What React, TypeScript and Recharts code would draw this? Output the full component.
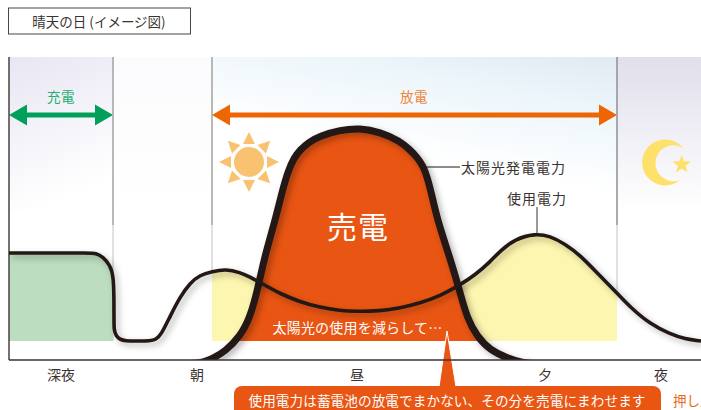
import React from 'react';
import { ComposedChart, Line, Area, XAxis, YAxis, ReferenceArea, ReferenceLine } from 'recharts';

// time runs 0..692, power runs 0..303 (arbitrary image units: the picture has no numeric scale)
const usageTime = [0, 40, 80, 87, 94, 101, 104.5, 105, 105, 105, 107, 111, 116, 128, 141, 147, 152, 161, 171, 181, 191, 203, 217, 231, 241, 251, 261, 271, 291, 311, 331, 346, 371, 391, 411, 431, 451, 466, 481, 491, 506, 526, 541, 556, 571, 591, 608, 621, 641, 661, 676, 692];
const usagePower = [107, 107, 107, 107, 103, 95, 84, 60, 40, 30, 24, 20.5, 19, 19, 19, 20.5, 25, 43.5, 63, 77, 85, 88.5, 91, 87.5, 83, 77.5, 72, 66.5, 58, 52.5, 49.5, 48.5, 49, 52, 57, 64, 75, 85, 98, 109, 121, 126.5, 124, 116, 105, 84, 67, 53, 36, 26, 21, 19];
const solarTime = [181, 191, 200, 206, 216, 231, 241, 249, 256, 266, 273, 279, 285, 291, 300, 311, 331, 351, 371, 391, 401, 408, 414, 418, 424, 429, 441, 451, 458, 468, 481, 498, 514, 524];
const solarPower = [-3.5, -3, 0, 3, 8.5, 23.5, 42, 72, 105, 139, 168, 189, 202, 210, 218, 224, 230, 232, 228, 219, 210, 203, 194, 184, 160, 138, 102, 68, 42, 23.5, 10, 2, -3, -3.5];
const regionEdges = [104, 203, 608];
const chargeSpan = [0, 104];
const dischargeSpan = [203, 608];
const storedFloor = 19;
const periodTicks = [52, 188, 348, 536, 652];
const periodLabels = ['深夜', '朝', '昼', '夕', '夜'];

const jp = '"Noto Sans CJK JP", sans-serif';
const ink = '#231815';
const textInk = '#3a3330';
const orange = '#e95513';

const usageRows = usageTime.map((t, i) => ({ t, usage: usagePower[i], band: [storedFloor, usagePower[i]] }));
const solarRows = solarTime.map((t, i) => ({ t, solar: solarPower[i], band: [storedFloor, solarPower[i]] }));

const makeArrow = (color: string) => (p: any) => {
  const { x, y, width, height } = p;
  const cy = y + height / 2;
  const len = 18, half = 10.5, s = 2.6;
  const r = x + width;
  return (
    <polygon
      fill={color}
      points={`${x},${cy} ${x + len},${cy - half} ${x + len},${cy - s} ${r - len},${cy - s} ${r - len},${cy - half} ${r},${cy} ${r - len},${cy + half} ${r - len},${cy + s} ${x + len},${cy + s} ${x + len},${cy + half}`}
    />
  );
};

const Sun = () => {
  const cx = 249, cy = 162;
  const rays = [0, 45, 90, 135, 180, 225, 270, 315];
  return (
    <g fill="#f9c270">
      <circle cx={cx} cy={cy} r={15} />
      {rays.map((a) => (
        <polygon key={a} points={`${cx},${cy - 30} ${cx - 6},${cy - 18} ${cx + 6},${cy - 18}`} transform={`rotate(${a} ${cx} ${cy})`} />
      ))}
    </g>
  );
};

const Moon = () => {
  const sx = 681.7, sy = 164.5, ro = 9.8, ri = 4;
  const pts = Array.from({ length: 10 }, (_, i) => {
    const a = (-90 + i * 36) * Math.PI / 180;
    const r = i % 2 ? ri : ro;
    return `${sx + r * Math.cos(a)},${sy + r * Math.sin(a)}`;
  }).join(' ');
  return (
    <g fill="#fde16a">
      <path d="M683 148 A23 23 0 1 0 680 180 A18 18 0 1 1 683 148 Z" />
      <polygon points={pts} />
    </g>
  );
};

const Note = ({ x, y, size = 13.5, fill = textInk, spacing = 0.6, anchor = 'middle', weight = 400, children }: any) => (
  <text x={x} y={y} fontFamily={jp} fontSize={size} fill={fill} letterSpacing={spacing} textAnchor={anchor} fontWeight={weight} dominantBaseline="central">
    {children}
  </text>
);

const Annotations = () => (
  <g>
    <Sun />
    <Moon />
    <rect x={8.5} y={8} width={182} height={26} fill="#fff" stroke="#4a4545" strokeWidth={1} />
    <Note x={99} y={21} size={13.5} spacing={0}>晴天の日 (イメージ図)</Note>
    <Note x={61} y={96} fill="#22ad6f">充電</Note>
    <Note x={414} y={96} fill="#ef8438">放電</Note>
    <Note x={358} y={225} size={30} fill="#fff" spacing={1}>売電</Note>
    <Note x={357.5} y={327} size={14} fill="#fff" spacing={0.2}>太陽光の使用を減らして…</Note>
    <line x1={425} x2={460} y1={167} y2={167} stroke={ink} strokeWidth={1} />
    <Note x={513.5} y={167} size={14} spacing={1}>太陽光発電電力</Note>
    <line x1={537} x2={537} y1={207} y2={233} stroke="#77777a" strokeWidth={1.5} />
    <Note x={537} y={198} size={14} spacing={1}>使用電力</Note>
    <polygon points="447,331 439,387 456,387" fill={orange} stroke="#fff" strokeWidth={1} />
    <rect x={234} y={386} width={427} height={40} rx={8} fill={orange} />
    <Note x={447} y={400} size={13.6} fill="#fff" spacing={0.1}>使用電力は蓄電池の放電でまかない、その分を売電にまわせます</Note>
    <Note x={673} y={400} size={13.5} fill="#ea6a20" anchor="start" spacing={0}>押し上げ</Note>
  </g>
);

const shadow = { filter: 'drop-shadow(3px 3px 3px rgba(0,0,0,0.3))' };

export default function App() {
  return (
    <div style={{ position: 'absolute', left: 0, top: 0, width: 701, height: 410, overflow: 'hidden', background: '#fff' }}>
      <ComposedChart width={701} height={410} margin={{ top: 57, right: 0, bottom: 0, left: 9 }} data={usageRows}>
        <defs>
          <linearGradient id="nightA" x1="0" y1="0" x2="0.3" y2="1">
            <stop offset="0" stopColor="#e8e6f3" />
            <stop offset="1" stopColor="#ffffff" />
          </linearGradient>
          <linearGradient id="nightB" x1="0" y1="0" x2="0" y2="1">
            <stop offset="0" stopColor="#e0dfeb" />
            <stop offset="1" stopColor="#ffffff" />
          </linearGradient>
          <linearGradient id="dayA" x1="1" y1="0" x2="0.5" y2="1">
            <stop offset="0" stopColor="#e0eaf1" />
            <stop offset="0.3" stopColor="#edf6fb" />
            <stop offset="0.72" stopColor="#ffffff" />
            <stop offset="1" stopColor="#ffffff" />
          </linearGradient>
          <linearGradient id="dawn" x1="0" y1="0" x2="0" y2="1">
            <stop offset="0" stopColor="#fbfbfd" />
            <stop offset="1" stopColor="#ffffff" />
          </linearGradient>
          <clipPath id="clipGreen"><rect x={9} y={0} width={104.5} height={341} /></clipPath>
          <clipPath id="clipYellow"><rect x={212} y={0} width={405} height={341} /></clipPath>
          <clipPath id="clipOrange"><rect x={0} y={0} width={701} height={341} /></clipPath>
        </defs>
        <XAxis
          dataKey="t"
          type="number"
          domain={[0, 692]}
          ticks={periodTicks}
          tickFormatter={(v: number) => periodLabels[periodTicks.indexOf(v)]}
          tickLine={false}
          axisLine={{ stroke: '#3a3330', strokeWidth: 1.5 }}
          height={50}
          interval={0}
          tick={{ fontFamily: jp, fontSize: 14, fill: textInk, dy: 2 }}
          allowDataOverflow
        />
        <YAxis type="number" domain={[0, 303]} hide allowDataOverflow />

        <ReferenceArea x1={0} x2={104} y1={150} y2={303} fill="url(#nightA)" fillOpacity={1} stroke="none" />
        <ReferenceArea x1={104} x2={203} y1={150} y2={303} fill="url(#dawn)" fillOpacity={1} stroke="none" />
        <ReferenceArea x1={203} x2={608} y1={150} y2={303} fill="url(#dayA)" fillOpacity={1} stroke="none" />
        <ReferenceArea x1={608} x2={692} y1={150} y2={303} fill="url(#nightB)" fillOpacity={1} stroke="none" />

        <Area data={usageRows} dataKey="band" type="basis" stroke="none" fill="#bcddbf" fillOpacity={1} isAnimationActive={false} dot={false} activeDot={false} style={{ clipPath: 'url(#clipGreen)' }} />
        <Area data={usageRows} dataKey="band" type="basis" stroke="none" fill="#fdf6b0" fillOpacity={1} isAnimationActive={false} dot={false} activeDot={false} style={{ clipPath: 'url(#clipYellow)' }} />
        <Area data={solarRows} dataKey="band" type="basis" stroke="none" fill={orange} fillOpacity={1} isAnimationActive={false} dot={false} activeDot={false} style={{ clipPath: 'url(#clipOrange)' }} />

        {regionEdges.map((e, i) => (
          <ReferenceLine key={'t' + i} segment={[{ x: e, y: 135 }, { x: e, y: 303 }]} stroke={i === 2 ? '#8f8f93' : '#a2a2a2'} strokeWidth={1.5} />
        ))}
        {regionEdges.map((e, i) => (
          <ReferenceLine key={'b' + i} segment={[{ x: e, y: i === 2 ? 68 : 88 }, { x: e, y: 135 }]} stroke="#c4c4c4" strokeWidth={1} />
        ))}
        <ReferenceLine x={0} stroke="#4a4040" strokeWidth={1.5} />

        <Line data={solarRows} dataKey="solar" type="basis" stroke={ink} strokeWidth={7} dot={false} activeDot={false} isAnimationActive={false} style={shadow} />
        <Line data={usageRows} dataKey="usage" type="basis" stroke={ink} strokeWidth={3.6} dot={false} activeDot={false} isAnimationActive={false} style={shadow} />

        <ReferenceArea x1={chargeSpan[0]} x2={chargeSpan[1]} y1={240} y2={250} shape={makeArrow('#00a05a')} />
        <ReferenceArea x1={dischargeSpan[0]} x2={dischargeSpan[1]} y1={240} y2={250} shape={makeArrow('#ee6503')} />
        <ReferenceArea x1={0} x2={692} y1={0} y2={303} shape={Annotations} />
      </ComposedChart>
    </div>
  );
}
